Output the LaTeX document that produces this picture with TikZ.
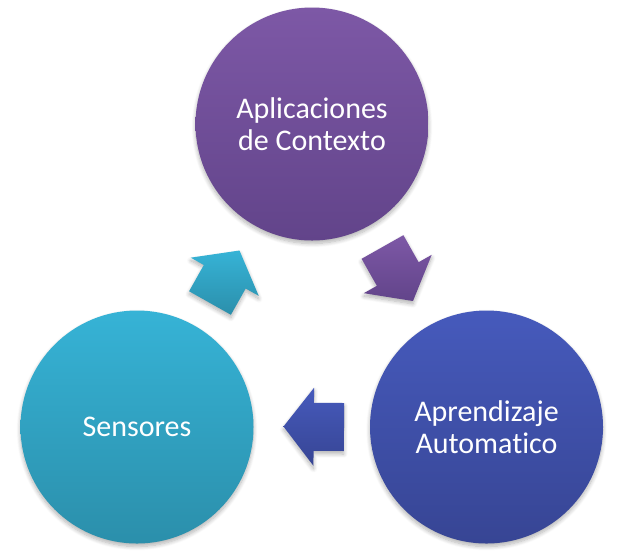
\documentclass[tikz,border=0pt]{standalone}
\usepackage{fontspec}
\setmainfont{Carlito}[Ligatures={NoCommon},RawFeature={-liga;-clig;-dlig}]
\usetikzlibrary{calc,shadows.blur}

% gradient colours (top / bottom)
\definecolor{purpleTop}{HTML}{7D58A6}
\definecolor{purpleBot}{HTML}{62448A}
\definecolor{tealTop}{HTML}{36B3D6}
\definecolor{tealBot}{HTML}{2B8FAB}
\definecolor{blueTop}{HTML}{465ABC}
\definecolor{blueBot}{HTML}{374594}

\tikzset{
  softshadow/.style={blur shadow={shadow xshift=0pt,shadow yshift=-3pt,
      shadow blur radius=4pt,shadow blur steps=8,shadow opacity=30}},
  bubble/.style={circle,minimum size=233pt,inner sep=0pt,draw=none,
      softshadow,text=white,align=center,
      font=\fontsize{30}{32}\selectfont},
  blockarrow/.style={draw=none,softshadow},
}

% block arrow from back midpoint #1 to tip #2 (shaft half width 24, head half width 39)
\newcommand{\blockarrowpath}[2]{%
  ($(#1)!24pt!90:(#2)$) --
  ($($(#1)!0.5!(#2)$)!24pt!90:(#2)$) --
  ($($(#1)!0.5!(#2)$)!39pt!90:(#2)$) --
  (#2) --
  ($($(#1)!0.5!(#2)$)!39pt!-90:(#2)$) --
  ($($(#1)!0.5!(#2)$)!24pt!-90:(#2)$) --
  ($(#1)!24pt!-90:(#2)$) -- cycle}

\begin{document}
\begin{tikzpicture}[x=1pt,y=-1pt]
  \useasboundingbox (0,0) rectangle (620,558);

  % the three stages
  \node[bubble,top color=purpleTop,bottom color=purpleBot] (ctx) at (312,124)
    {Aplicaciones\\de Contexto};
  \node[bubble,top color=tealTop,bottom color=tealBot] (sens) at (137,427)
    {Sensores};
  \node[bubble,top color=blueTop,bottom color=blueBot] (learn) at (486.5,427)
    {Aprendizaje\\Automatico};

  % arrow anchors: back midpoint and tip of each block arrow
  \coordinate (a1s) at (210,303);   \coordinate (a1t) at (239.5,250.5);
  \coordinate (a2s) at (382.5,247); \coordinate (a2t) at (413,301);
  \coordinate (a3s) at (344,427);   \coordinate (a3t) at (283.5,426.5);

  % Sensores -> Aplicaciones de Contexto
  \path[blockarrow,top color=tealTop,bottom color=tealBot] \blockarrowpath{a1s}{a1t};
  % Aplicaciones de Contexto -> Aprendizaje Automatico
  \path[blockarrow,top color=purpleTop,bottom color=purpleBot] \blockarrowpath{a2s}{a2t};
  % Aprendizaje Automatico -> Sensores
  \path[blockarrow,top color=blueTop,bottom color=blueBot] \blockarrowpath{a3s}{a3t};
\end{tikzpicture}
\end{document}
